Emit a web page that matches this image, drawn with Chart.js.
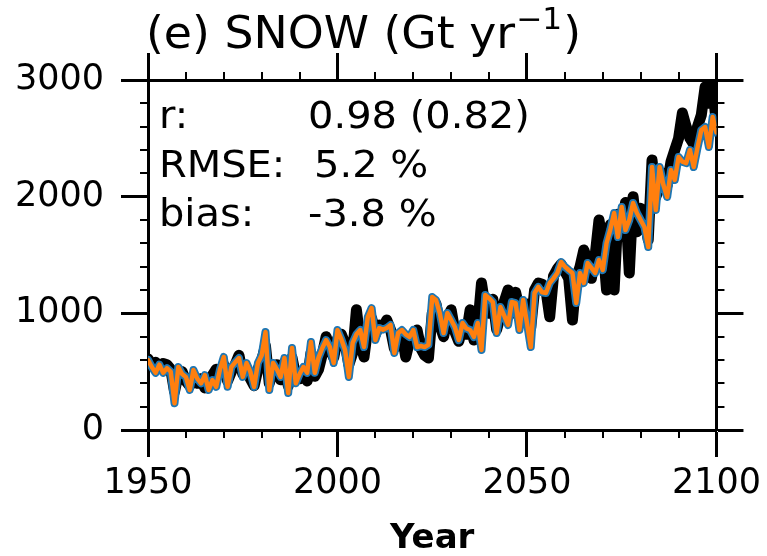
<!DOCTYPE html>
<html>
<head>
<meta charset="utf-8">
<script src="https://cdn.jsdelivr.net/npm/chart.js@4.4.1/dist/chart.umd.min.js"></script>
<style>
  html, body { margin: 0; padding: 0; background: #fff; }
  #wrap { width: 767px; height: 556px; }
</style>
</head>
<body>
<div id="wrap"><canvas id="snow" width="767" height="556"></canvas></div>
<script>
// yearly snowfall, Gt/yr
const YEARS = Array.from({ length: 151 }, (_, i) => 1950 + i);

const SNOW_REF = [
  610, 560, 580, 540, 570, 560, 520, 330, 480, 500,
  420, 380, 450, 400, 440, 360, 400, 470, 520, 480,
  560, 420, 500, 560, 640, 480, 520, 440, 380, 520,
  600, 720, 400, 520, 560, 430, 580, 380, 620, 460,
  440, 480, 420, 660, 460, 520, 650, 800, 700, 620,
  780, 820, 740, 560, 660, 1030, 760, 626, 880, 960,
  820, 900, 880, 943, 860, 700, 760, 820, 626, 760,
  820, 857, 700, 640, 617, 1000, 1080, 900, 800, 960,
  1030, 840, 760, 880, 820, 1030, 771, 880, 1260, 1050,
  1000, 1120, 860, 980, 1100, 1200, 1000, 1180, 1040, 980,
  1080, 880, 1200, 1260, 1250, 1200, 970, 1320, 1380, 1420,
  1360, 1300, 943, 1300, 1400, 1543, 1450, 1300, 1500, 1800,
  1600, 1200, 1760, 1200, 1850, 1700, 1950, 1346, 2000, 1700,
  1900, 1800, 1630, 2314, 2000, 2083, 2200, 2100, 2300, 2400,
  2500, 2717, 2600, 2500, 2450, 2600, 2700, 2940, 2800, 2970,
  2600
];

const SNOW_MODEL = [
  600, 540, 490, 560, 490, 530, 500, 230, 540, 480,
  455, 343, 514, 440, 400, 470, 343, 428, 370, 520,
  626, 370, 540, 580, 617, 455, 574, 500, 370, 574,
  640, 840, 343, 574, 520, 455, 617, 317, 703, 400,
  480, 540, 490, 754, 490, 620, 703, 771, 711, 574,
  857, 780, 686, 455, 746, 820, 857, 711, 968, 1045,
  771, 874, 860, 874, 900, 660, 831, 857, 820, 797,
  857, 711, 720, 711, 730, 1140, 1114, 1000, 831, 1003,
  943, 880, 771, 917, 870, 857, 797, 917, 686, 1157,
  1130, 1097, 831, 1054, 980, 900, 1097, 1088, 857, 1114,
  917, 711, 1174, 1226, 1180, 1174, 1260, 1300, 1346, 1440,
  1400, 1371, 1346, 1088, 1346, 1260, 1431, 1390, 1346, 1457,
  1371, 1603, 1720, 1860, 1654, 1911, 1714, 1800, 1946, 1860,
  1800, 1740, 1568, 2254, 1886, 2254, 2100, 1997, 2229, 2143,
  2340, 2300, 2288, 2400, 2254, 2420, 2571, 2597, 2426, 2683,
  2550
];

const X_RANGE = [1950, 2100];
const Y_RANGE = [0, 3000];
const X_STEP = 50, X_MINOR = 10;
const Y_STEP = 1000, Y_MINOR = 200;

const STATS = [
  ["r:", "0.98 (0.82)"],
  ["RMSE:", "5.2 %"],
  ["bias:", "-3.8 %"],
];

const FONT = '"DejaVu Sans", Verdana, sans-serif';
Chart.defaults.font.family = FONT;
Chart.defaults.color = "#000";

const toXY = vals => YEARS.map((yr, i) => ({ x: yr, y: vals[i] }));

// minor ticks on all four sides, pointing out of the box
const minorTicks = {
  id: "minorTicks",
  afterDraw(chart) {
    const { ctx, chartArea: a, scales } = chart;
    const len = 8;
    ctx.save();
    ctx.strokeStyle = "#000";
    ctx.lineWidth = 2;
    ctx.beginPath();
    for (let v = X_RANGE[0]; v <= X_RANGE[1]; v += X_MINOR) {
      if (v % X_STEP === 0) continue;
      const px = Math.round(scales.x.getPixelForValue(v));
      ctx.moveTo(px, a.bottom); ctx.lineTo(px, a.bottom + len);
      ctx.moveTo(px, a.top); ctx.lineTo(px, a.top - len);
    }
    for (let v = Y_RANGE[0]; v <= Y_RANGE[1]; v += Y_MINOR) {
      if (v % Y_STEP === 0) continue;
      const py = Math.round(scales.y.getPixelForValue(v));
      ctx.moveTo(a.left, py); ctx.lineTo(a.left - len, py);
      ctx.moveTo(a.right, py); ctx.lineTo(a.right + len, py);
    }
    ctx.stroke();
    ctx.restore();
  }
};

// panel title and the statistics block (text is a little widened)
const panelText = {
  id: "panelText",
  afterDraw(chart) {
    const { ctx } = chart;
    ctx.save();
    ctx.fillStyle = "#000";
    ctx.textBaseline = "alphabetic";
    ctx.textAlign = "left";

    const wide = (txt, x, y, sx) => {
      ctx.save();
      ctx.translate(x, y);
      ctx.scale(sx, 1);
      ctx.fillText(txt, 0, 0);
      ctx.restore();
      return ctx.measureText(txt).width * sx;
    };

    let x = 146;
    const base = 48, sx = 1.04;
    ctx.font = `44px ${FONT}`;
    x += wide("(e) SNOW (Gt yr", x, base, sx);
    ctx.font = `30px ${FONT}`;
    x += wide("\u22121", x + 1, base - 19, sx) + 2;
    ctx.font = `44px ${FONT}`;
    wide(")", x, base, sx);

    ctx.font = `37px ${FONT}`;
    const valueX = [308, 314, 308];
    STATS.forEach(([label, value], i) => {
      const y = 128 + i * 49;
      wide(label, 159, y, 1.08);
      wide(value, valueX[i], y, 1.08);
    });
    ctx.restore();
  }
};

const majorGrid = {
  display: true,
  drawOnChartArea: false,
  drawTicks: true,
  tickLength: 27,
  tickWidth: 3,
  tickColor: "#000"
};
const frameBorder = { display: true, width: 3, color: "#000" };

new Chart(document.getElementById("snow"), {
  type: "line",
  data: {
    datasets: [
      {
        label: "model",
        data: toXY(SNOW_MODEL),
        borderColor: "#ff7f0e",
        borderWidth: 4.5,
        order: 1
      },
      {
        label: "model edge",
        data: toXY(SNOW_MODEL),
        borderColor: "#1f77b4",
        borderWidth: 8,
        order: 2
      },
      {
        label: "reference",
        data: toXY(SNOW_REF),
        borderColor: "#000",
        borderWidth: 11,
        order: 3
      }
    ]
  },
  options: {
    responsive: false,
    animation: false,
    devicePixelRatio: 1,
    layout: { padding: 0 },
    elements: {
      point: { radius: 0 },
      line: { tension: 0, borderJoinStyle: "round", borderCapStyle: "round" }
    },
    plugins: {
      legend: { display: false },
      tooltip: { enabled: false }
    },
    scales: {
      x: {
        type: "linear",
        position: "bottom",
        min: X_RANGE[0], max: X_RANGE[1],
        ticks: { stepSize: X_STEP, font: { size: 35 }, padding: 6, maxRotation: 0,
                 callback: v => String(v) },
        grid: majorGrid,
        border: frameBorder,
        title: { display: true, text: "Year", font: { size: 34, weight: "bold", lineHeight: 1 },
                 padding: { top: 0, bottom: 0 } },
        afterFit: s => { s.height = 126; }
      },
      xTop: {
        type: "linear",
        position: "top",
        min: X_RANGE[0], max: X_RANGE[1],
        ticks: { stepSize: X_STEP, display: false },
        grid: majorGrid,
        border: frameBorder,
        afterFit: s => { s.height = 80; }
      },
      y: {
        type: "linear",
        position: "left",
        min: Y_RANGE[0], max: Y_RANGE[1],
        ticks: { stepSize: Y_STEP, font: { size: 35 }, padding: 17,
                 callback: v => String(v) },
        grid: majorGrid,
        border: frameBorder,
        afterFit: s => { s.width = 148; }
      },
      yRight: {
        type: "linear",
        position: "right",
        min: Y_RANGE[0], max: Y_RANGE[1],
        ticks: { stepSize: Y_STEP, display: false },
        grid: majorGrid,
        border: frameBorder,
        afterFit: s => { s.width = 47; }
      }
    }
  },
  plugins: [minorTicks, panelText]
});
</script>
</body>
</html>
